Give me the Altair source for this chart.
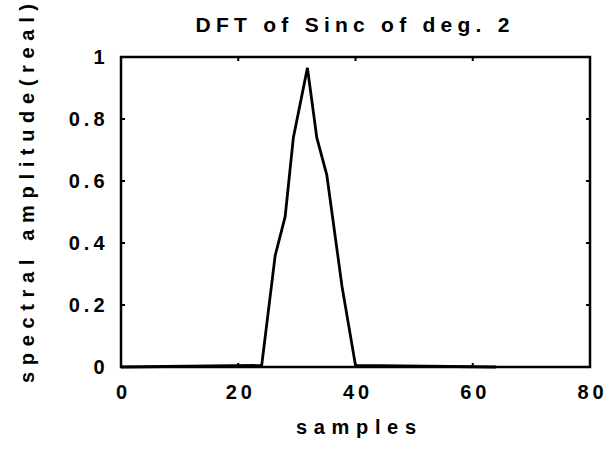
import altair as alt
import pandas as pd

# Real part of the DFT of a degree-2 sinc (triangular spectrum)
sample_idx = [0, 24, 26.3, 28, 29.4, 31.8, 33.4, 35.1, 37.7, 40, 64]
amplitude = [0, 0.005, 0.36, 0.485, 0.74, 0.965, 0.74, 0.62, 0.26, 0.005, 0]

x_ticks = [0, 20, 40, 60, 80]
y_ticks = [0, 0.2, 0.4, 0.6, 0.8, 1.0]

title_text = "DFT of Sinc of deg. 2"
x_title = "samples"
y_title = "spectral amplitude(real)"

FONT = "Liberation Sans"
SP_TITLE = "\u2005"   # four-per-em space between letters
SP_AXIS = "\u2004"    # three-per-em space between letters


def spaced(text, sep):
    words = text.split(" ")
    return (sep + " " + sep).join(sep.join(w) for w in words)


W, H = 469, 310
TICK = 4

line_df = pd.DataFrame({"sample": sample_idx, "amp": amplitude})
xt_df = pd.DataFrame({"t": x_ticks})
yt_df = pd.DataFrame({"t": y_ticks})
title_df = pd.DataFrame({"label": [spaced(title_text, SP_TITLE)]})

x_scale = alt.Scale(domain=[0, 80], nice=False, zero=False)
y_scale = alt.Scale(domain=[0, 1], nice=False)

label_expr = "join(split(datum.label, ''), '\u2009')"

x_axis = alt.Axis(
    values=x_ticks, grid=False, domain=False, ticks=False,
    labelPadding=15, labelFont=FONT, labelFontSize=20, labelFontWeight="bold",
    labelColor="black", labelExpr=label_expr, labelFlush=False,
    title=spaced(x_title, SP_AXIS), titleFont=FONT, titleFontSize=20,
    titleFontWeight="bold", titleColor="black",
    titleBaseline="middle", titleY=60,
)
y_axis = alt.Axis(
    values=y_ticks, grid=False, domain=False, ticks=False, format="~g",
    labelPadding=17, labelFont=FONT, labelFontSize=20, labelFontWeight="bold",
    labelColor="black", labelExpr=label_expr, labelFlush=False,
    title=spaced(y_title, SP_AXIS),
    titleFont=FONT, titleFontSize=20, titleFontWeight="bold", titleColor="black",
    titleAngle=270, titleAlign="center", titleBaseline="middle",
    titleX=-94, titleY=136,
)

line = alt.Chart(line_df).mark_line(
    color="black", strokeWidth=2.8, strokeJoin="miter"
).encode(
    x=alt.X("sample:Q", scale=x_scale, axis=x_axis),
    y=alt.Y("amp:Q", scale=y_scale, axis=y_axis),
)

# inward tick marks on all four sides
xt_bottom = alt.Chart(xt_df).mark_rule(color="black", strokeWidth=2).encode(
    x=alt.X("t:Q", scale=x_scale), y=alt.value(H), y2=alt.value(H - TICK))
xt_top = alt.Chart(xt_df).mark_rule(color="black", strokeWidth=2).encode(
    x=alt.X("t:Q", scale=x_scale), y=alt.value(0), y2=alt.value(TICK))
yt_left = alt.Chart(yt_df).mark_rule(color="black", strokeWidth=2).encode(
    y=alt.Y("t:Q", scale=y_scale), x=alt.value(0), x2=alt.value(TICK))
yt_right = alt.Chart(yt_df).mark_rule(color="black", strokeWidth=2).encode(
    y=alt.Y("t:Q", scale=y_scale), x=alt.value(W), x2=alt.value(W - TICK))

# chart title, centred over the plot area
title = alt.Chart(title_df).mark_text(
    font=FONT, fontSize=21, fontWeight="bold", color="black",
    align="center", baseline="alphabetic",
).encode(text="label:N", x=alt.value(W / 2 - 3), y=alt.value(-25))

chart = alt.layer(line, xt_bottom, xt_top, yt_left, yt_right, title).properties(
    width=W, height=H,
    padding={"left": 121, "top": 57, "right": 20, "bottom": 84},
    autosize=alt.AutoSizeParams(type="none"),
    background="white",
).configure_view(stroke="black", strokeWidth=2.5)

chart.save("out.html", embed_options={"renderer": "svg", "actions": False})
